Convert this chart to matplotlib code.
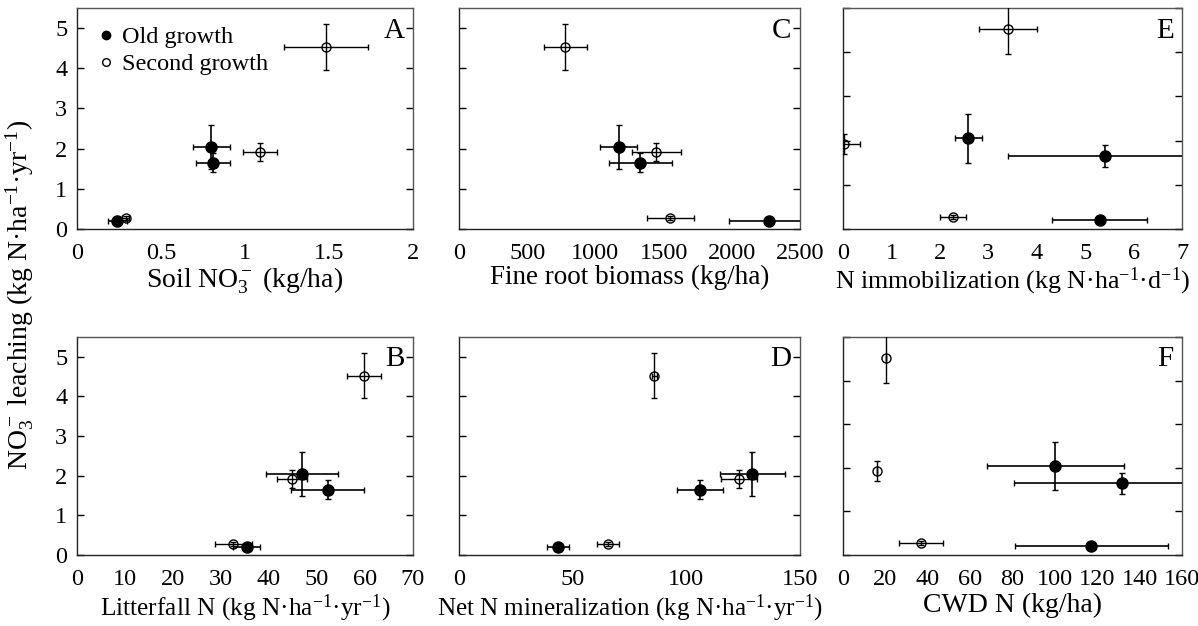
import matplotlib
matplotlib.use("Agg")
import matplotlib.pyplot as plt
from matplotlib.lines import Line2D

plt.rcParams['font.family'] = ['Liberation Serif', 'DejaVu Serif']
plt.rcParams['mathtext.fontset'] = 'custom'
plt.rcParams['mathtext.rm'] = 'Liberation Serif'
plt.rcParams['mathtext.it'] = 'Liberation Serif:italic'

# NO3- leaching (y) for the three old-growth and three second-growth sites
leach_og = [2.05, 1.65, 0.21]
leach_og_err = [0.55, 0.24, 0.05]
leach_sg = [4.52, 1.92, 0.27]
leach_sg_err = [0.57, 0.23, 0.05]

# Panel A: soil NO3-
soil_og = [0.80, 0.81, 0.24]
soil_og_err = [0.11, 0.10, 0.056]
soil_sg = [1.48, 1.09, 0.29]
soil_sg_err = [0.25, 0.10, 0.02]

# Panel B: litterfall N
litter_og = [46.8, 52.2, 35.4]
litter_og_err = [7.5, 7.6, 2.8]
litter_sg = [59.8, 44.8, 32.6]
litter_sg_err = [3.6, 3.2, 3.8]

# Panel C: fine root biomass
root_og = [1170, 1330, 2270]
root_og_err = [138, 233, 287]
root_sg = [780, 1446, 1549]
root_sg_err = [160, 180, 172]

# Panel D: net N mineralization
minz_og = [129, 106, 43.5]
minz_og_err = [14.4, 10, 5]
minz_sg = [85.9, 123.2, 65.7]
minz_sg_err = [1.0, 8.0, 4.8]

# Panel E: N immobilization
immob_og = [2.59, 5.40, 5.30]
immob_og_err = [0.28, 2.0, 0.98]
immob_sg = [3.41, 0.03, 2.28]
immob_sg_err = [0.60, 0.32, 0.27]

# Panel F: CWD N
cwd_og = [100.2, 131.7, 117.2]
cwd_og_err = [32.4, 50.8, 36.2]
cwd_sg = [20.3, 16.2, 36.8]
cwd_sg_err = [0.0, 0.0, 10.4]

W, H = 1198, 626
fig = plt.figure(figsize=(W / 100, H / 100), dpi=100)

cols = [(77, 413), (459, 800), (843, 1182)]
rows = [(8, 229), (337, 555)]

def make_ax(col, row):
    x0, x1 = cols[col]
    y0, y1 = rows[row]
    return fig.add_axes([x0 / W, 1 - y1 / H, (x1 - x0) / W, (y1 - y0) / H])

panels = [
    # letter, col, row, og_x, og_xerr, sg_x, sg_xerr, xlim, xticks, xticklabels, xlabel, label size, ylim
    ('A', 0, 0, soil_og, soil_og_err, soil_sg, soil_sg_err, (0, 2),
     [0, 0.5, 1, 1.5, 2], ['0', '0.5', '1', '1.5', '2'],
     r'Soil NO$_3^-$ (kg/ha)', 20, 5.5),
    ('C', 1, 0, root_og, root_og_err, root_sg, root_sg_err, (0, 2500),
     [0, 500, 1000, 1500, 2000, 2500], ['0', '500', '1000', '1500', '2000', '2500'],
     'Fine root biomass (kg/ha)', 19.5, 5.5),
    ('E', 2, 0, immob_og, immob_og_err, immob_sg, immob_sg_err, (0, 7),
     [0, 1, 2, 3, 4, 5, 6, 7], ['0', '1', '2', '3', '4', '5', '6', '7'],
     r'N immobilization (kg N·ha$^{-1}$·d$^{-1}$)', 18.7, 5.0),
    ('B', 0, 1, litter_og, litter_og_err, litter_sg, litter_sg_err, (0, 70),
     [0, 10, 20, 30, 40, 50, 60, 70], ['0', '10', '20', '30', '40', '50', '60', '70'],
     r'Litterfall N (kg N·ha$^{-1}$·yr$^{-1}$)', 18.3, 5.5),
    ('D', 1, 1, minz_og, minz_og_err, minz_sg, minz_sg_err, (0, 150),
     [0, 50, 100, 150], ['0', '50', '100', '150'],
     r'Net N mineralization (kg N·ha$^{-1}$·yr$^{-1}$)', 18.1, 5.5),
    ('F', 2, 1, cwd_og, cwd_og_err, cwd_sg, cwd_sg_err, (0, 160),
     [0, 20, 40, 60, 80, 100, 120, 140, 160],
     ['0', '20', '40', '60', '80', '100', '120', '140', '160'],
     'CWD N (kg/ha)', 20, 5.0),
]

for (letter, c, r, ogx, ogxe, sgx, sgxe, xlim, xt, xtl, xlabel, lsize, ytop) in panels:
    ax = make_ax(c, r)
    ax.errorbar(sgx, leach_sg, xerr=sgxe, yerr=leach_sg_err, fmt='o',
                ms=6.5, mfc='none', mec='black', mew=1.0, ecolor='black',
                elinewidth=1.0, capsize=2, capthick=1.0, zorder=3)
    ax.errorbar(ogx, leach_og, xerr=ogxe, yerr=leach_og_err, fmt='o',
                ms=8, mfc='black', mec='black', ecolor='black',
                elinewidth=1.2, capsize=2, capthick=1.0, zorder=4)
    ax.set_xlim(*xlim)
    ax.set_ylim(0, ytop)
    ax.set_xticks(xt)
    ax.set_xticklabels(xtl)
    ax.set_yticks([0, 1, 2, 3, 4, 5])
    ax.tick_params(axis='x', length=0, pad=10, labelsize=17.5)
    ax.tick_params(axis='y', direction='in', length=5, width=1, left=True,
                   right=True, pad=7, labelsize=17.5)
    if c != 0:
        ax.tick_params(axis='y', labelleft=False)
    for name, s in ax.spines.items():
        s.set_linewidth(1.0)
        s.set_color('#222222' if name in ('left', 'bottom') else '#555555')
    ax.set_xlabel(xlabel, fontsize=lsize, labelpad=(1 if r == 0 else 2))
    ax.text(0.975, 0.865, letter, transform=ax.transAxes, ha='right',
            va='baseline', fontsize=21)
    if letter == 'A':
        handles = [
            Line2D([], [], ls='none', marker='o', ms=6, mfc='black', mec='black'),
            Line2D([], [], ls='none', marker='o', ms=5.5, mfc='none', mec='black'),
        ]
        ax.legend(handles, ['Old growth', 'Second growth'], loc='upper left',
                  bbox_to_anchor=(0.008, 1.005), frameon=False, fontsize=17.5,
                  handlelength=0.6, handletextpad=0.35, labelspacing=0.2,
                  borderaxespad=0.4)

fig.text(20 / W, 1 - 295 / H, r'NO$_3^-$ leaching (kg N·ha$^{-1}$·yr$^{-1}$)',
         rotation=90, ha='center', va='center', fontsize=20)

fig.savefig('out.png', dpi=100)
